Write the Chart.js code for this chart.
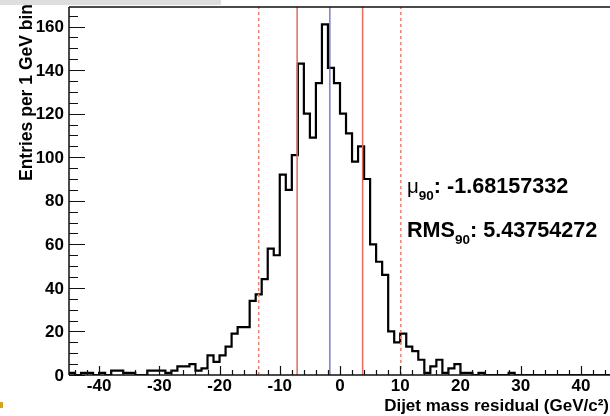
<!DOCTYPE html>
<html>
<head>
<meta charset="utf-8">
<script src="https://cdn.jsdelivr.net/npm/chart.js@4/dist/chart.umd.min.js"></script>
<style>
  html, body { margin: 0; padding: 0; background: #fff; overflow: hidden; }
  #wrap { position: relative; width: 612px; height: 416px; }
</style>
</head>
<body>
<div id="wrap"><canvas id="c" width="612" height="416"></canvas></div>
<script>
// Histogram range and binning (1 GeV bins)
const xMin = -45;
const xMax = 45;
const yMax = 169;

// Entries per bin, bins from -45 to 45 GeV
const counts = [
  0, 1, 0, 1, 1, 0, 1, 0, 2, 2,        // -45 .. -36
  1, 1, 0, 0, 2, 2, 2, 1, 2, 4,        // -35 .. -26
  4, 5, 2, 3, 9, 6, 9, 13, 19, 22,     // -25 .. -16
  22, 34, 37, 44, 58, 55, 92, 85, 101, 143, // -15 .. -6
  120, 109, 134, 161, 141,             // -5 .. -1
  134, 120, 111, 98, 105, 90, 60, 52, 46, 20, // 0 .. 9
  15, 19, 13, 11, 7, 1, 4, 7, 1, 3,    // 10 .. 19
  5, 1, 1, 0, 1, 0, 0, 0, 0, 1,        // 20 .. 29
  0, 0, 0, 0, 0, 0, 0, 0, 0, 0,        // 30 .. 39
  0, 0, 0, 0, 0                        // 40 .. 44
];

// Summary statistics of the central 90%
const mu90 = -1.68157332;
const rms90 = 5.43754272;
const window90 = [-13.5, 10.1];

// Axis tick labels
const xTickLabels = [-40, -30, -20, -10, 0, 10, 20, 30, 40];
const yTickLabels = [0, 20, 40, 60, 80, 100, 120, 140, 160];

const xTitle = 'Dijet mass residual (GeV/c\u00B2)';
const yTitle = 'Entries per 1 GeV bin';

const binWidth = (xMax - xMin) / counts.length;

// Step outline points at bin low edges
const histPoints = [{ x: xMin, y: 0 }];
counts.forEach((c, i) => histPoints.push({ x: xMin + i * binWidth, y: c }));
histPoints.push({ x: xMax, y: counts[counts.length - 1] });
histPoints.push({ x: xMax, y: 0 });

function vline(x) { return [{ x: x, y: 0 }, { x: x, y: yMax }]; }

const FONT = "'Liberation Sans', Arial, Helvetica, sans-serif";

const rootAxes = {
  id: 'rootAxes',
  beforeDraw(chart) {
    const ctx = chart.ctx;
    ctx.save();
    ctx.fillStyle = '#dedede';
    ctx.fillRect(0, 0, 221, 5);
    ctx.fillStyle = '#d9a21b';
    ctx.fillRect(0, 402, 3, 6);
    ctx.restore();
  },
  afterDatasetsDraw(chart) {
    const ctx = chart.ctx;
    const a = chart.chartArea;
    const xs = chart.scales.x, ys = chart.scales.y;
    ctx.save();
    ctx.strokeStyle = '#111';
    ctx.lineWidth = 1.5;
    // frame: left, bottom, top
    ctx.beginPath();
    ctx.moveTo(a.left, a.top); ctx.lineTo(a.right, a.top);
    ctx.moveTo(a.left, a.top); ctx.lineTo(a.left, a.bottom);
    ctx.moveTo(a.left, a.bottom); ctx.lineTo(a.right, a.bottom);
    ctx.stroke();

    ctx.lineWidth = 1.2;
    ctx.beginPath();
    // y ticks, drawn inward
    for (let v = 0; v <= yMax; v += 5) {
      const py = Math.round(ys.getPixelForValue(v)) + 0.5;
      const len = v % 20 === 0 ? 16 : 9;
      ctx.moveTo(a.left, py); ctx.lineTo(a.left + len, py);
    }
    // x ticks, drawn upward
    for (let v = -44; v <= 44; v += 2) {
      const px = Math.round(xs.getPixelForValue(v)) + 0.5;
      const len = v % 10 === 0 ? 9 : 5;
      ctx.moveTo(px, a.bottom); ctx.lineTo(px, a.bottom - len);
    }
    ctx.stroke();

    // tick labels
    ctx.fillStyle = '#000';
    ctx.font = 'bold 17px ' + FONT;
    ctx.textAlign = 'right';
    ctx.textBaseline = 'middle';
    yTickLabels.forEach(v => {
      ctx.fillText(String(v), a.left - 5, ys.getPixelForValue(v) + 1);
    });
    ctx.textAlign = 'center';
    ctx.textBaseline = 'top';
    xTickLabels.forEach(v => {
      ctx.fillText(String(v), xs.getPixelForValue(v), a.bottom + 3);
    });

    // axis titles
    ctx.textAlign = 'right';
    ctx.textBaseline = 'middle';
    ctx.fillText(xTitle, 609, 406);
    ctx.save();
    ctx.translate(27, 4);
    ctx.rotate(-Math.PI / 2);
    ctx.font = 'bold 17.5px ' + FONT;
    ctx.fillText(yTitle, 0, 0);
    ctx.restore();

    // statistics text
    function statLine(sym, symFont, value, x, base) {
      ctx.textAlign = 'left';
      ctx.textBaseline = 'alphabetic';
      ctx.font = symFont;
      ctx.fillText(sym, x, base);
      x += ctx.measureText(sym).width;
      ctx.font = 'bold 13.5px ' + FONT;
      ctx.fillText('90', x, base + 7);
      x += ctx.measureText('90').width;
      ctx.font = 'bold 21.6px ' + FONT;
      ctx.fillText(': ' + value, x, base);
    }
    statLine('\u03BC', '20.5px ' + FONT, mu90.toFixed(8), 407, 193);
    statLine('RMS', 'bold 21.6px ' + FONT, rms90.toFixed(8), 407, 237);
    ctx.restore();
  }
};

new Chart(document.getElementById('c'), {
  type: 'line',
  data: {
    datasets: [
      { data: vline(window90[0]), borderColor: '#e8806f', borderWidth: 1.5, borderDash: [3, 3], pointRadius: 0 },
      { data: vline(window90[1]), borderColor: '#e8806f', borderWidth: 1.5, borderDash: [3, 3], pointRadius: 0 },
      { data: vline(mu90 - rms90), borderColor: '#e26a5f', borderWidth: 1.5, pointRadius: 0 },
      { data: vline(mu90 + rms90), borderColor: '#e26a5f', borderWidth: 1.5, pointRadius: 0 },
      { data: vline(mu90), borderColor: '#5a5fb0', borderWidth: 1.2, pointRadius: 0 },
      { data: histPoints, stepped: 'after', borderColor: '#000', borderWidth: 2.2, pointRadius: 0, fill: false }
    ]
  },
  options: {
    responsive: false,
    devicePixelRatio: 1,
    animation: false,
    layout: { padding: { left: 69, top: 7, right: 1, bottom: 41 } },
    plugins: { legend: { display: false }, tooltip: { enabled: false } },
    scales: {
      x: { type: 'linear', min: xMin, max: xMax, display: false },
      y: { type: 'linear', min: 0, max: yMax, display: false }
    }
  },
  plugins: [rootAxes]
});
</script>
</body>
</html>
